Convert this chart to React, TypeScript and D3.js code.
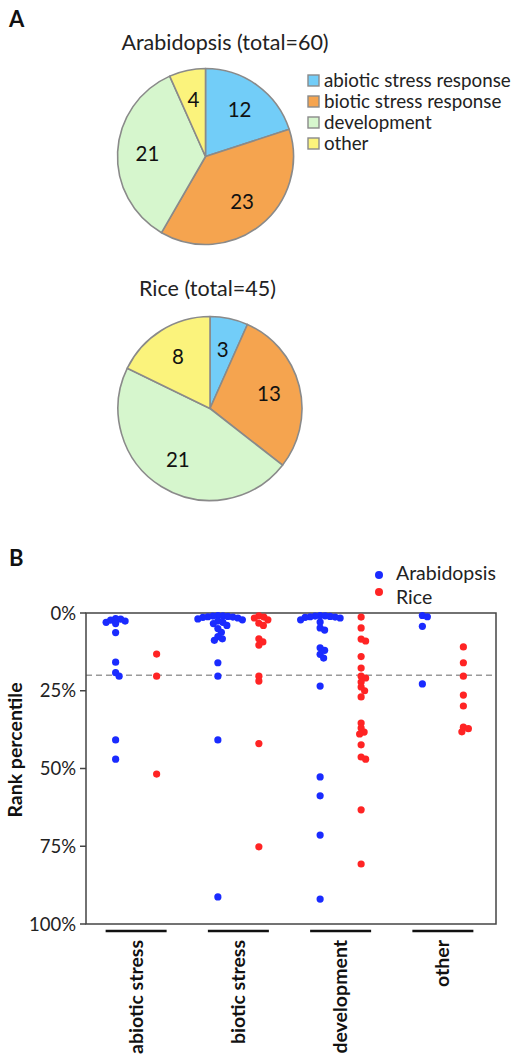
import React from 'react';
import * as d3 from 'd3';

// ---------- Panel A data ----------
const pieCategories = ['abiotic stress response', 'biotic stress response', 'development', 'other'];
const pieColors = ['#72cdf8', '#f5a44f', '#d6f6cd', '#fbf37c'];
const arabidopsisCounts = [12, 23, 21, 4];
const riceCounts = [3, 13, 21, 8];
const arabidopsisTitle = 'Arabidopsis (total=60)';
const riceTitle = 'Rice (total=45)';

// ---------- Panel B data ----------
const dotCategories = ['abiotic stress', 'biotic stress', 'development', 'other'];
const species = ['Arabidopsis', 'Rice'];
const speciesColors = ['#1a2bff', '#ff2424'];
const yTicks = [0, 25, 50, 75, 100];
const threshold = 20;

const araAbiotic = [1.8, 2.0, 2.3, 2.6, 3.0, 3.4, 6.3, 15.8, 19.2, 20.3, 40.8, 47];
const araBiotic = [0.8, 0.9, 1, 1.1, 1.2, 1.3, 1.4, 1.6, 1.9, 2.2, 2.6, 3, 3.4, 4, 5, 6.2, 7.6, 8.3, 8.8, 16, 20.3, 40.8, 91.3];
const araDevelopment = [0.8, 0.9, 1, 1.1, 1.2, 1.3, 1.4, 1.6, 2.2, 2.9, 4.8, 5.5, 11.2, 12, 13.3, 14.5, 23.5, 52.7, 58.8, 71.4, 92];
const araOther = [0.8, 1.2, 4.3, 22.8];

const riceAbiotic = [13.2, 20.3, 51.8];
const riceBiotic = [0.9, 1.3, 1.6, 2.2, 3.3, 4, 8.3, 9.3, 10.3, 20.3, 21.9, 42, 75.2];
const riceDevelopment = [1.3, 4.8, 8.4, 9.0, 14, 17.7, 20.3, 20.9, 22.2, 23.8, 25, 27, 35.4, 37, 38.3, 38.9, 42.4, 46.3, 47, 63.3, 80.7];
const riceOther = [10.9, 16, 20.3, 26.4, 29.9, 36.7, 37.2, 38.2];

const arabidopsisRanks = [araAbiotic, araBiotic, araDevelopment, araOther];
const riceRanks = [riceAbiotic, riceBiotic, riceDevelopment, riceOther];

const FONT = 'Lato, "Open Sans", sans-serif';

function swarm(values: number[], cx: number, y: (v: number) => number, d: number) {
  const sorted = [...values].sort((a, b) => a - b);
  const placed: { x: number; y: number; v: number }[] = [];
  for (const v of sorted) {
    const yy = y(v);
    let found = cx;
    outer: for (let k = 0; k < 300; k += 0.5) {
      for (const s of k === 0 ? [1] : [1, -1]) {
        const xx = cx + s * k;
        if (placed.every((p) => (p.x - xx) ** 2 + (p.y - yy) ** 2 >= d * d)) {
          found = xx;
          break outer;
        }
      }
    }
    placed.push({ x: found, y: yy, v });
  }
  return placed;
}

function Pie({ counts, cx, cy, r }: { counts: number[]; cx: number; cy: number; r: number }) {
  const arcs = d3.pie<number>().sort(null).value((d) => d)(counts);
  const arcGen = d3.arc<d3.PieArcDatum<number>>().innerRadius(0).outerRadius(r);
  const labelArc = d3.arc<d3.PieArcDatum<number>>().innerRadius(r * 0.66).outerRadius(r * 0.66);
  return (
    <g transform={`translate(${cx},${cy})`}>
      {arcs.map((a, i) => (
        <path key={i} d={arcGen(a) || ''} fill={pieColors[i]} stroke="#8a8a8a" strokeWidth={1.6} strokeLinejoin="round" />
      ))}
      {arcs.map((a, i) => {
        const [lx, ly] = labelArc.centroid(a);
        return (
          <text key={'l' + i} x={lx} y={ly} dy="0.36em" textAnchor="middle" fontSize={20.5} fill="#111" fontFamily={FONT}>
            {counts[i]}
          </text>
        );
      })}
    </g>
  );
}

export default function App() {
  const W = 523;
  const H = 1054;
  const plotL = 86, plotR = 496, plotT = 613, plotB = 924;
  const y = d3.scaleLinear().domain([0, 100]).range([plotT, plotB]);
  const x = d3.scaleBand<string>().domain(dotCategories).range([85, 494]).paddingInner(0).paddingOuter(0);
  const sx = d3.scalePoint<string>().domain(species).range([-20.5, 20.5]);

  const dots: { x: number; y: number; color: string; key: string }[] = [];
  dotCategories.forEach((c, ci) => {
    const cx = (x(c) as number) + x.bandwidth() / 2;
    [arabidopsisRanks, riceRanks].forEach((series, si) => {
      const pts = swarm(series[ci], cx + (sx(species[si]) as number), y, 4.8);
      pts.forEach((p, pi) => dots.push({ x: p.x, y: p.y, color: speciesColors[si], key: `${ci}-${si}-${pi}` }));
    });
  });

  return (
    <svg width={W} height={H} style={{ position: 'absolute', left: 0, top: 0, background: '#fff' }} fontFamily={FONT}>
      <rect x={0} y={0} width={W} height={H} fill="#fff" />
      {/* Panel A */}
      <text x={9} y={27} fontSize={22} fontWeight="bold" fill="#111">A</text>
      <text x={225} y={50} textAnchor="middle" fontSize={21.5} fill="#222">{arabidopsisTitle}</text>
      <Pie counts={arabidopsisCounts} cx={205.5} cy={156.5} r={88} />
      {pieCategories.map((c, i) => (
        <g key={c}>
          <rect x={308} y={75 + i * 21} width={11} height={11} fill={pieColors[i]} stroke="#8a8a8a" strokeWidth={1.4} />
          <text x={324} y={87 + i * 21} fontSize={18.8} fill="#222">{c}</text>
        </g>
      ))}
      <text x={207.5} y={296} textAnchor="middle" fontSize={21.5} fill="#222">{riceTitle}</text>
      <Pie counts={riceCounts} cx={210} cy={408.5} r={92} />

      {/* Panel B */}
      <text x={9} y={566} fontSize={22} fontWeight="bold" fill="#111">B</text>
      {species.map((s, i) => (
        <g key={s}>
          <circle cx={379} cy={575 + i * 17} r={4} fill={speciesColors[i]} />
          <text x={396} y={580 + i * 24} fontSize={19.5} fill="#222">{s}</text>
        </g>
      ))}

      <line x1={plotL} x2={plotR} y1={y(threshold)} y2={y(threshold)} stroke="#9a9a9a" strokeWidth={1.6} strokeDasharray="6,4" />
      <rect x={plotL} y={plotT} width={plotR - plotL} height={plotB - plotT} fill="none" stroke="#444" strokeWidth={1.5} />
      {yTicks.map((t) => (
        <g key={t}>
          <line x1={plotL - 6} x2={plotL} y1={y(t)} y2={y(t)} stroke="#444" strokeWidth={1.5} />
          <text x={76} y={y(t)} dy="0.36em" textAnchor="end" fontSize={18.5} fill="#222">{`${t}%`}</text>
        </g>
      ))}
      <text transform={`translate(22,750) rotate(-90)`} textAnchor="middle" fontSize={19.5} fontWeight="bold" fill="#111">Rank percentile</text>

      {dots.map((d) => (
        <circle key={d.key} cx={d.x} cy={d.y} r={3.6} fill={d.color} />
      ))}

      {dotCategories.map((c) => {
        const cx = (x(c) as number) + x.bandwidth() / 2;
        return (
          <g key={c}>
            <line x1={cx - 30.5} x2={cx + 30.5} y1={931} y2={931} stroke="#111" strokeWidth={2.6} />
            <text transform={`translate(${cx + 6.5},940) rotate(-90)`} textAnchor="end" fontSize={19.5} fontWeight="bold" fill="#111">{c}</text>
          </g>
        );
      })}
    </svg>
  );
}
